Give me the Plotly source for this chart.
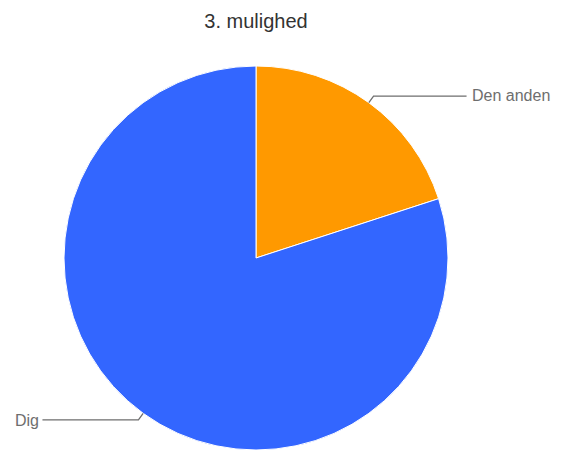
import math
import plotly.graph_objects as go

labels = ["Den anden", "Dig"]
values = [20, 80]
colors = ["#ff9900", "#3366ff"]
title_text = "3. mulighed"

# page body has an 8px default margin; compensate so the picture lands in place
OFF = 8
W, H = 566, 452
ML, MR, MT = 64 - OFF, 118 + OFF, 66 - OFF
pw = ph = 384
MB = H - MT - ph
cx = ML + pw / 2
cy = MT + ph / 2
R = min(pw, ph) / 2


def to_paper(px, py):
    return (px - ML) / pw, (H - MB - py) / ph


fig = go.Figure(go.Pie(
    labels=labels, values=values, sort=False, direction="clockwise",
    marker=dict(colors=colors, line=dict(color="white", width=1)),
    textinfo="none", hoverinfo="label+percent", showlegend=False,
))

total = sum(values)
shapes, annotations = [], []
cum = 0
for lab, v in zip(labels, values):
    mid = (cum + v / 2) / total * 2 * math.pi
    cum += v
    sx, sy = cx + R * math.sin(mid), cy - R * math.cos(mid)
    ex, ey = cx + (R + 8) * math.sin(mid), cy - (R + 8) * math.cos(mid)
    right = math.sin(mid) >= 0
    hx = ex + 93 if right else ex - 96
    pts = [to_paper(sx, sy), to_paper(ex, ey), to_paper(hx, ey)]
    path = "M {} {} L {} {} L {} {}".format(pts[0][0], pts[0][1], pts[1][0], pts[1][1], pts[2][0], pts[2][1])
    shapes.append(dict(type="path", xref="paper", yref="paper", path=path,
                       line=dict(color="#6e6e6e", width=1.3)))
    annotations.append(dict(
        x=pts[2][0], y=pts[2][1], xref="paper", yref="paper",
        text=lab, showarrow=False, xanchor="left" if right else "right",
        xshift=3 if right else -1, yanchor="middle", yshift=1 if right else -1,
        font=dict(family="Liberation Sans, Arial, sans-serif", size=16, color="#6e6e6e"),
    ))

fig.update_layout(
    width=W, height=H,
    margin=dict(l=ML, r=MR, t=MT, b=MB),
    paper_bgcolor="white", plot_bgcolor="white",
    title=dict(text=title_text, x=cx / W, xanchor="center", y=1 - (21 - OFF) / H, yanchor="middle",
               font=dict(family="Liberation Sans, Arial, sans-serif", size=20, color="#333333")),
    shapes=shapes, annotations=annotations,
)

fig.write_html("out.html")
